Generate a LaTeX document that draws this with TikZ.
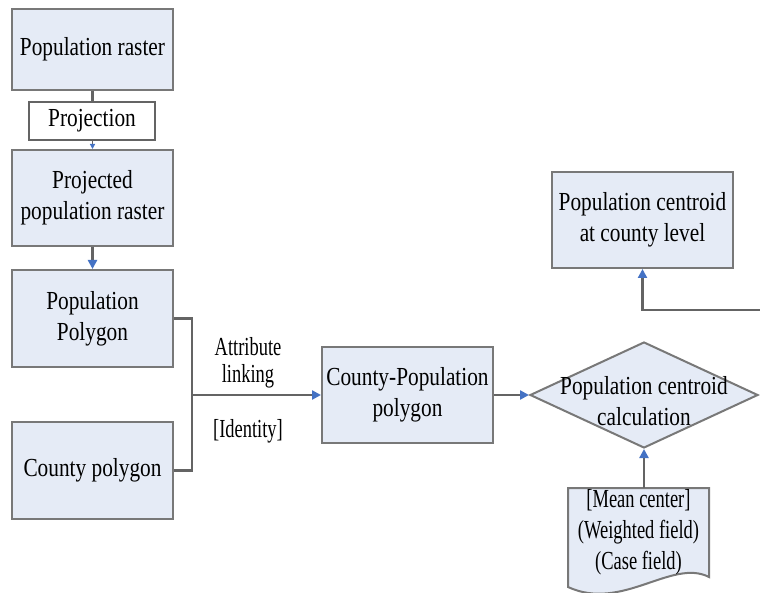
\documentclass[tikz,border=0pt]{standalone}
\usepackage{fontspec}
\setmainfont[FakeStretch=0.82]{Liberation Serif}
\newfontfamily\narrowfont[FakeStretch=0.71]{Liberation Serif}
\usetikzlibrary{arrows.meta,shapes.geometric}
\definecolor{boxfill}{RGB}{229,235,246}
\definecolor{boxline}{RGB}{120,120,120}
\definecolor{connc}{RGB}{100,100,100}
\definecolor{tipblue}{RGB}{68,114,196}
\begin{document}
\begin{tikzpicture}[x=1pt,y=-1pt,
  every node/.style={font=\fontsize{26}{31}\selectfont},
  box/.style={draw=boxline, line width=2pt, fill=boxfill, align=center, inner sep=0pt},
  connline/.style={draw=connc, line width=2.5pt},
  arr/.style={connline, -{Triangle[length=9pt,width=9pt,color=tipblue]}},
  labelfont/.style={font=\narrowfont\fontsize{26}{27}\selectfont, align=center}
  ]
\fill[white] (0,0) rectangle (760,593);
\useasboundingbox (0,0) rectangle (760,593);
\clip (0,0) rectangle (760,593);

% boxes
\node[box, minimum width=161pt, minimum height=81pt] (pr) at (92.5,49.5) {Population raster};
\node[draw=connc, line width=2.5pt, fill=white, inner sep=0pt, minimum width=126pt, minimum height=38pt] (proj) at (92,121) {Projection};
\node[box, minimum width=161pt, minimum height=96pt] (ppr) at (92.5,198) {Projected\\population raster};
\node[box, minimum width=161pt, minimum height=97pt] (pp) at (92.5,318.5) {Population\\Polygon};
\node[box, minimum width=161pt, minimum height=97pt] (cp) at (92.5,470.5) {County polygon};
\node[box, minimum width=171pt, minimum height=96pt] (cpp) at (407.5,395) {County-Population\\polygon};
\node[diamond, draw=boxline, line width=2pt, fill=boxfill, minimum width=228pt, minimum height=106pt, inner sep=0pt] (dia) at (644,395) {};
\node[align=center, inner sep=0pt] (diatext) at (644,401) {Population centroid\\calculation};
\node[box, minimum width=181pt, minimum height=96pt] (cen) at (642.5,220) {Population centroid\\at county level};

% document shape
\path[draw=boxline, line width=2pt, fill=boxfill] (568,488) -- (709,488) -- (709,577)
  .. controls (672,558) and (622,612) .. (568,587) -- cycle;
\coordinate (docTop) at (644,488);
\node[font=\narrowfont\fontsize{26}{31}\selectfont, align=center, inner sep=0pt] (doc) at (638.5,532) {[Mean center]\\(Weighted field)\\(Case field)};

% connectors
\draw[connline] (pr.south) -- (pr.south |- proj.north);
\draw[draw=connc, line width=1.5pt, -{Triangle[length=5pt,width=5pt,color=tipblue]}] (proj.south -| ppr.north) -- (ppr.north);
\draw[arr] (ppr.south) -- (pp.north);
\coordinate (j) at (192,395);
\draw[connline] (pp.east) -| (j);
\draw[connline] (cp.east) -| (j);
\draw[arr] (j) -- (cpp.west);
\draw[arr] (cpp.east) -- (dia.west);
\draw[arr] (docTop) -- (dia.south);
\coordinate (off) at (775,310);
\draw[arr] (off) -| (cen.south);

% labels
\node[labelfont, inner sep=0pt] (lab1) at (248,363) {Attribute\\linking};
\node[labelfont, inner sep=0pt] (lab2) at (248,431) {[Identity]};
\end{tikzpicture}
\end{document}
